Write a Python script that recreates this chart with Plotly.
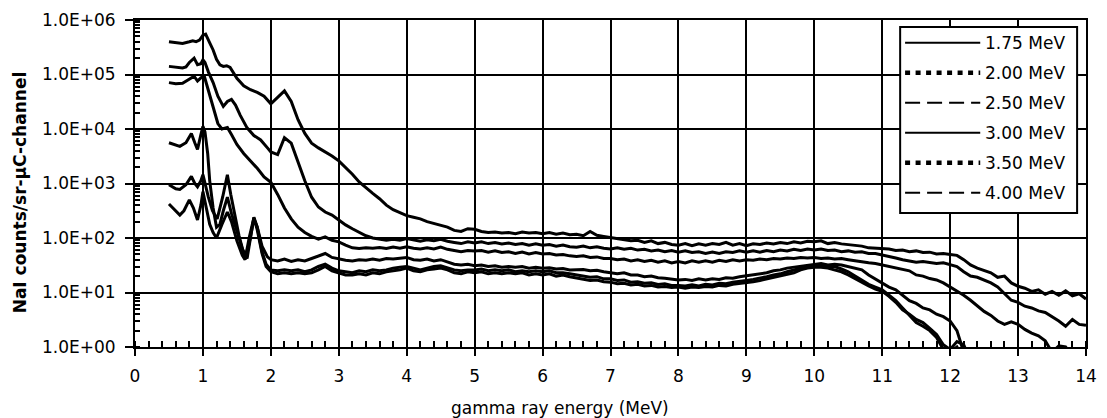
import plotly.graph_objects as go

# Shared channel energies (MeV) for the part of every spectrum above 2 MeV
grid_energy = [
    2.0, 2.1, 2.2, 2.3, 2.4, 2.5, 2.6, 2.7, 2.8, 2.9,
    3.0, 3.1, 3.2, 3.3, 3.4, 3.5, 3.6, 3.7, 3.8, 3.9,
    4.0, 4.1, 4.2, 4.3, 4.4, 4.5, 4.6, 4.7, 4.8, 4.9,
    5.0, 5.1, 5.2, 5.3, 5.4, 5.5, 5.6, 5.7, 5.8, 5.9,
    6.0, 6.1, 6.2, 6.3, 6.4, 6.5, 6.6, 6.7, 6.8, 6.9,
    7.0, 7.1, 7.2, 7.3, 7.4, 7.5, 7.6, 7.7, 7.8, 7.9,
    8.0, 8.1, 8.2, 8.3, 8.4, 8.5, 8.6, 8.7, 8.8, 8.9,
    9.0, 9.1, 9.2, 9.3, 9.4, 9.5, 9.6, 9.7, 9.8, 9.9,
    10.0, 10.1, 10.2, 10.3, 10.4, 10.5, 10.6, 10.7, 10.8, 10.9,
    11.0, 11.1, 11.2, 11.3, 11.4, 11.5, 11.6, 11.7, 11.8, 11.9,
    12.0, 12.1, 12.2, 12.3, 12.4, 12.5, 12.6, 12.7, 12.8, 12.9,
    13.0, 13.1, 13.2, 13.3, 13.4, 13.5, 13.6, 13.7, 13.8, 13.9,
    14.0,
]

# ---- 4.00 MeV ----
energy_low_400 = [0.5, 0.6, 0.7, 0.8, 0.85, 0.9, 0.95, 1.0, 1.04, 1.1, 1.15, 1.2, 1.25,
                  1.3, 1.35, 1.4, 1.45, 1.5, 1.6, 1.7, 1.8, 1.9]
counts_low_400 = [400000, 380000, 372000, 400000, 417000, 400000, 427000, 525000, 550000,
                  380000, 282000, 190000, 151000, 141000, 145000, 135000, 105000, 85000,
                  62000, 52500, 47000, 40000]
counts_high_400 = [
    29000, 38000, 50000, 32000, 14800, 8300, 5500, 4500, 3800, 3200,
    2600, 2000, 1480, 1070, 830, 660, 525, 400, 330, 295,
    257, 240, 224, 200, 186, 174, 158, 138, 132, 148,
    145, 132, 126, 129, 123, 126, 120, 129, 123, 126,
    120, 126, 117, 123, 115, 117, 110, 132, 112, 107,
    102, 100, 93, 89, 91, 83, 89, 79, 83, 76,
    74, 79, 72, 78, 74, 79, 76, 83, 74, 79,
    72, 78, 76, 81, 78, 83, 79, 85, 81, 87,
    85, 89, 79, 83, 78, 76, 72, 71, 66, 65,
    62, 63, 59, 60, 56, 58, 54, 55, 51, 52,
    50, 48, 40, 32, 28, 25, 23, 19, 20, 15,
    13, 12, 10.5, 11.2, 9.3, 10.5, 8.9, 10.7, 8.7, 9.5,
    7.6,
]

# ---- 3.50 MeV ----
energy_low_350 = [0.5, 0.6, 0.7, 0.75, 0.8, 0.87, 0.92, 0.97, 1.0, 1.03, 1.08, 1.15, 1.22,
                  1.3, 1.36, 1.42, 1.48, 1.55, 1.65, 1.75, 1.85, 1.95]
counts_low_350 = [141000, 135000, 132000, 138000, 166000, 200000, 151000, 158000, 186000,
                  166000, 112000, 71000, 40000, 26000, 32000, 35000, 27500, 17800, 10500,
                  7600, 6300, 4500]
counts_high_350 = [
    3800, 3400, 6900, 5500, 2400, 1120, 560, 370, 300, 263,
    214, 174, 148, 126, 110, 100, 95, 91, 95, 91,
    98, 91, 87, 93, 89, 95, 87, 83, 79, 85,
    81, 85, 79, 83, 78, 81, 76, 79, 74, 78,
    74, 76, 71, 74, 69, 68, 71, 66, 69, 65,
    63, 66, 62, 65, 60, 62, 58, 60, 56, 59,
    55, 58, 54, 56, 52, 55, 52, 56, 54, 58,
    55, 58, 55, 59, 56, 60, 58, 62, 59, 63,
    60, 63, 59, 60, 56, 58, 55, 56, 52, 52,
    49, 47, 43, 40, 38, 36, 37, 35, 34, 35,
    32, 30, 24, 20, 19, 17, 15, 12.6, 9.5, 7.2,
    6.6, 5.6, 5.2, 4.6, 4.3, 3.6, 3.0, 2.4, 3.2, 2.6,
    2.5,
]

# ---- 3.00 MeV ----
energy_low_300 = [0.5, 0.6, 0.7, 0.8, 0.87, 0.92, 0.97, 1.02, 1.08, 1.15, 1.22, 1.28, 1.36,
                  1.42, 1.5, 1.6, 1.7, 1.8, 1.9]
counts_low_300 = [71000, 68000, 69000, 83000, 93000, 76000, 87000, 93000, 50000, 26000,
                  12600, 10000, 10700, 7900, 5200, 3550, 2630, 1900, 1320]
counts_high_300 = [
    1050, 630, 355, 224, 158, 126, 107, 95, 105, 91,
    85, 74, 66, 64, 66, 65, 67, 64, 68, 65,
    69, 65, 63, 66, 63, 68, 62, 59, 56, 59,
    58, 59, 55, 58, 54, 56, 52, 55, 51, 54,
    51, 52, 49, 50, 47, 46, 47, 44, 45, 42,
    42, 40, 41, 38, 40, 37, 39, 36, 38, 35,
    37, 35, 38, 36, 38, 36, 39, 37, 40, 38,
    40, 39, 41, 40, 42, 41, 43, 42, 44, 43,
    44, 42, 43, 41, 42, 40, 38, 36, 35, 34,
    32, 30, 28, 26, 25, 21, 20, 18, 17, 15,
    12.6, 10.5, 8.9, 7.2, 5.8, 4.5, 3.8, 3.0, 2.6, 2.9,
    2.6, 2.1, 1.8, 1.6, 1.3, 0.8, 1.05, 1.0, 0.7, 0.76,
    0.7,
]

# ---- 2.50 MeV ----
energy_low_250 = [0.5, 0.6, 0.66, 0.75, 0.83, 0.88, 0.92, 0.97, 1.0, 1.03, 1.07, 1.1, 1.15,
                  1.2, 1.25, 1.3, 1.36, 1.42, 1.5, 1.58, 1.63, 1.68, 1.75, 1.8, 1.87, 1.95]
counts_low_250 = [5600, 5000, 4800, 5600, 8300, 5600, 4200, 7900, 11200, 8900, 3550, 1120,
                  355, 158, 178, 316, 560, 282, 126, 63, 48, 79, 224, 158, 71, 45]
counts_high_250 = [
    40, 38, 41, 37, 40, 38, 42, 46, 52, 44,
    41, 39, 38, 40, 39, 41, 39, 42, 41, 43,
    44, 40, 39, 41, 38, 40, 36, 33, 32, 33,
    31, 32, 30, 31, 29, 30, 29, 30, 28, 29,
    28, 28.5, 27, 27.5, 26, 26, 26.5, 25, 25.5, 24,
    23, 22, 23, 21, 21, 19.5, 20, 18.6, 18.2, 17.4,
    17, 17.4, 16.6, 17.8, 17, 17.8, 17.4, 18.6, 18.2, 19.5,
    20.4, 21, 22, 23, 25, 26, 28, 29, 30, 32,
    33, 34, 32, 33, 32, 30, 28, 26, 21, 17.8,
    15.1, 12.6, 11.2, 8.9, 7.1, 6.3, 5.2, 4.8, 4.0, 3.6,
    3.0, 2.0, 0.8, 0.4,
]

# ---- 2.00 MeV ----
energy_low_200 = [0.5, 0.6, 0.66, 0.75, 0.83, 0.88, 0.92, 0.97, 1.0, 1.04, 1.08, 1.14, 1.21,
                  1.29, 1.36, 1.41, 1.47, 1.53, 1.6, 1.65, 1.7, 1.75, 1.8, 1.87, 1.93]
counts_low_200 = [950, 800, 780, 950, 1350, 1000, 870, 1120, 1450, 890, 560, 316, 224, 560,
                  1450, 630, 250, 112, 52, 42, 100, 240, 158, 56, 33]
counts_high_200 = [
    26, 25, 26, 25, 26, 24, 26, 30, 33, 28,
    25, 24, 23, 25, 24, 26, 25, 26, 28, 29,
    30, 28, 26, 28, 30, 31, 28, 26, 25, 26,
    26, 27, 25, 26, 25, 26, 24, 25, 24, 25,
    24, 25, 23, 23, 22, 21, 20, 19, 19.5, 17.8,
    17.8, 16.6, 17, 15.5, 15.8, 14.8, 15.1, 14.1, 14.5, 13.5,
    13.5, 13.2, 13.8, 13.2, 14.1, 13.8, 14.8, 14.5, 15.5, 15.8,
    16.6, 17.4, 18.2, 19.5, 21, 22, 24, 26, 28, 30,
    31, 32, 30, 30, 27, 24, 20, 16.6, 14.1, 12.6,
    11.2, 8.9, 7.1, 5.2, 3.8, 2.8, 2.4, 2.0, 1.5, 0.9,
    0.8, 1.0, 0.63, 0.4,
]

# ---- 1.75 MeV ----
energy_low_175 = [0.5, 0.6, 0.66, 0.72, 0.8, 0.86, 0.92, 0.97, 1.0, 1.05, 1.1, 1.15, 1.2,
                  1.28, 1.36, 1.42, 1.5, 1.58, 1.62, 1.68, 1.75, 1.8, 1.87, 1.93]
counts_low_175 = [420, 316, 263, 316, 500, 355, 214, 400, 710, 355, 178, 126, 100, 178, 300,
                  200, 89, 48, 40, 100, 234, 141, 52, 30]
counts_high_175 = [
    24, 22, 23, 22, 23, 22, 23, 26, 30, 25,
    23, 21, 21, 22, 21, 23, 22, 24, 25, 26,
    28, 25, 24, 26, 27, 28, 26, 23, 22, 24,
    23, 24, 22, 23, 22, 23, 22, 23, 21, 22,
    21, 22, 20, 21, 19.5, 18.6, 17.8, 16.6, 17, 15.8,
    15.5, 14.5, 14.8, 13.8, 14.1, 13.2, 13.5, 12.6, 12.9, 12.3,
    12.6, 12, 12.6, 12.3, 12.9, 12.6, 13.5, 13.2, 14.1, 14.5,
    15.1, 15.8, 16.6, 17.8, 19, 20.4, 22, 23, 26, 28,
    29, 29, 28, 26, 24, 21, 17.8, 15.1, 13.2, 11.5,
    10.5, 8.5, 6.6, 4.8, 4.0, 3.2, 2.8, 2.2, 1.7, 1.1,
    0.9, 1.26, 1.1, 0.56,
]

series = [
    ("1.75 MeV", energy_low_175, counts_low_175, counts_high_175),
    ("2.00 MeV", energy_low_200, counts_low_200, counts_high_200),
    ("2.50 MeV", energy_low_250, counts_low_250, counts_high_250),
    ("3.00 MeV", energy_low_300, counts_low_300, counts_high_300),
    ("3.50 MeV", energy_low_350, counts_low_350, counts_high_350),
    ("4.00 MeV", energy_low_400, counts_low_400, counts_high_400),
]

y_tick_values = [1, 10, 100, 1000, 10000, 100000, 1000000]
y_tick_labels = ["1.0E+00", "1.0E+01", "1.0E+02", "1.0E+03", "1.0E+04", "1.0E+05", "1.0E+06"]

# ---- styling ----
FONT = "DejaVu Sans"
W, H = 1107, 418
PLOT_L, PLOT_R, PLOT_T, PLOT_B = 135, 1097, 20, 347

legend_dash = {
    "1.75 MeV": ("solid", 2),
    "2.00 MeV": ("5px,5.5px", 4.5),
    "2.50 MeV": ("15px,7px", 2),
    "3.00 MeV": ("solid", 2),
    "3.50 MeV": ("5px,5.5px", 4.5),
    "4.00 MeV": ("15px,7px", 2),
}


def paper_x(px):
    return (px - PLOT_L) / (PLOT_R - PLOT_L)


def paper_y(py):
    return (PLOT_B - py) / (PLOT_B - PLOT_T)


fig = go.Figure()
for label, e_low, c_low, c_high in series:
    fig.add_trace(go.Scatter(
        x=e_low + grid_energy[:len(c_high)],
        y=c_low + c_high,
        mode="lines",
        name=label,
        showlegend=False,
        line=dict(color="black", width=3),
    ))

# hand-built legend box in the upper right corner
shapes = [dict(type="rect", xref="paper", yref="paper",
               x0=paper_x(909), x1=paper_x(1088), y0=paper_y(213), y1=paper_y(27),
               line=dict(color="black", width=2), fillcolor="white", layer="above")]
annotations = []
row_y0, row_step = 42.7, 30.0
for i, (label, *_rest) in enumerate(series):
    yy = paper_y(row_y0 + i * row_step)
    dash, lw = legend_dash[label]
    shapes.append(dict(type="line", xref="paper", yref="paper",
                       x0=paper_x(914), x1=paper_x(990), y0=yy, y1=yy,
                       line=dict(color="black", width=lw, dash=dash), layer="above"))
    annotations.append(dict(xref="paper", yref="paper", x=paper_x(993), y=yy,
                            text=label, showarrow=False, xanchor="left", yanchor="middle",
                            font=dict(family=FONT, size=17, color="black")))

annotations.append(dict(xref="paper", yref="paper", x=paper_x(565), y=paper_y(408),
                        text="gamma ray energy (MeV)", showarrow=False,
                        xanchor="center", yanchor="middle",
                        font=dict(family=FONT, size=17, color="black")))
annotations.append(dict(xref="paper", yref="paper", x=paper_x(19), y=paper_y(192),
                        text="NaI counts/sr-\u03bcC-channel", showarrow=False, textangle=-90,
                        xanchor="center", yanchor="middle",
                        font=dict(family=FONT, size=17, color="black", weight="bold")))

fig.update_layout(
    width=W, height=H,
    margin=dict(l=PLOT_L, r=W - PLOT_R, t=PLOT_T, b=H - PLOT_B, pad=0),
    paper_bgcolor="white", plot_bgcolor="white",
    font=dict(family=FONT, size=17, color="black"),
    shapes=shapes, annotations=annotations,
    showlegend=False,
)
fig.update_xaxes(
    range=[0, 14], dtick=1, tick0=0,
    showgrid=True, gridcolor="black", gridwidth=2,
    showline=True, linecolor="black", linewidth=2, mirror=True,
    ticks="outside", ticklen=7, tickwidth=2, tickcolor="black",
    ticklabelstandoff=6, zeroline=False,
    tickfont=dict(family=FONT, size=17, color="black"),
    minor=dict(dtick=0.2, tick0=0, ticks="inside", ticklen=6, tickwidth=1.5,
               tickcolor="black", showgrid=False),
)
fig.update_yaxes(
    type="log", range=[0, 6],
    tickvals=y_tick_values, ticktext=y_tick_labels,
    showgrid=True, gridcolor="black", gridwidth=2,
    showline=True, linecolor="black", linewidth=2, mirror=True,
    ticks="outside", ticklen=8, tickwidth=2, tickcolor="black",
    ticklabelstandoff=6, zeroline=False,
    tickfont=dict(family=FONT, size=17, color="black"),
    minor=dict(dtick="D1", ticks="inside", ticklen=5, tickwidth=1.5,
               tickcolor="black", showgrid=False),
)

fig.write_html("out.html")
